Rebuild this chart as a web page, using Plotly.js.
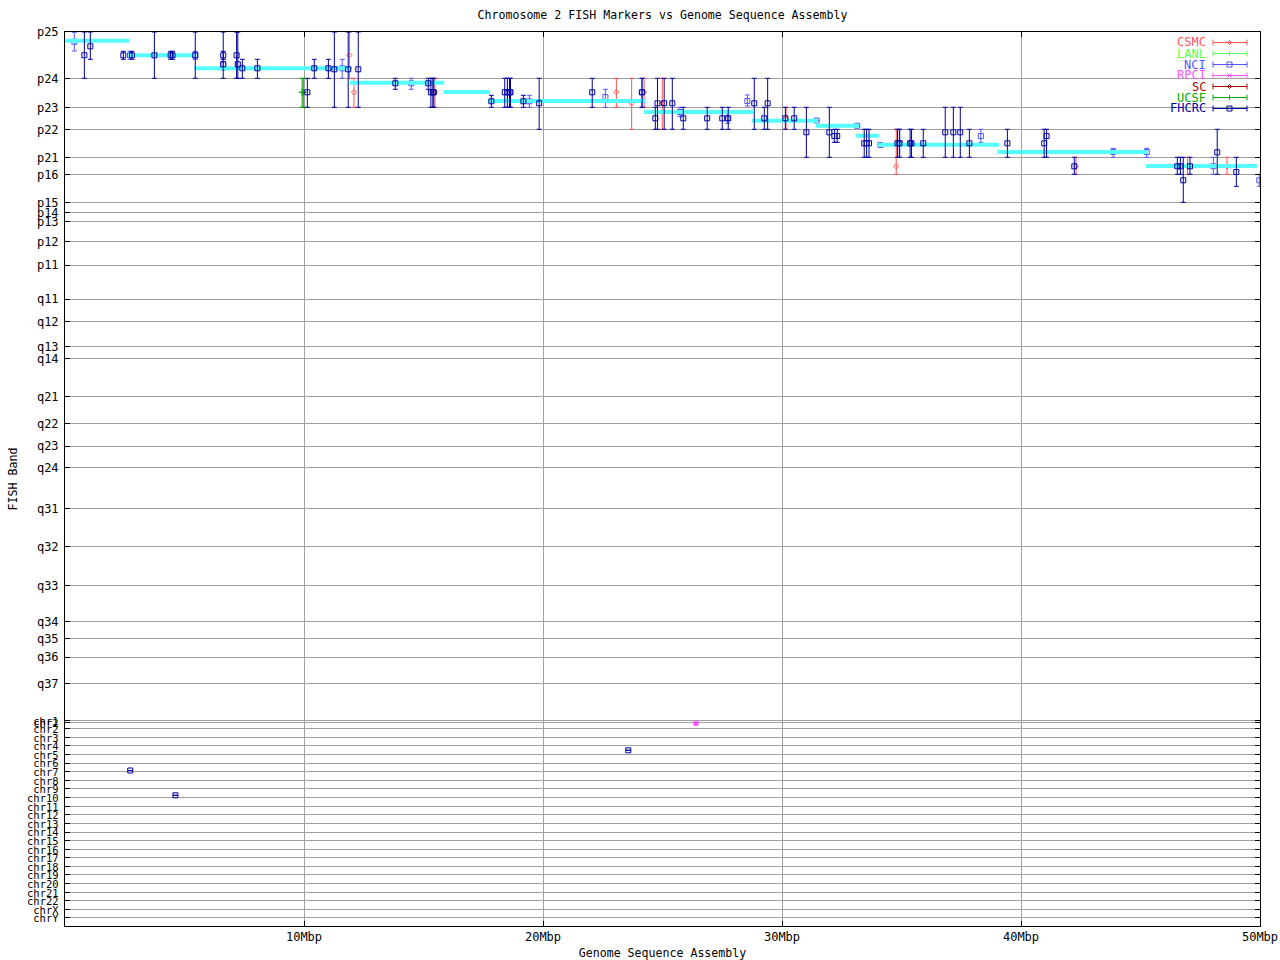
<!DOCTYPE html>
<html>
<head>
<meta charset="utf-8">
<script src="https://cdn.plot.ly/plotly-3.0.1.min.js"></script>
<style>html,body{margin:0;padding:0;background:#fff;}#chart{width:1280px;height:960px;}</style>
</head>
<body>
<div id="chart"></div>
<script>
// ---- FISH band axis (position of each band label along the chromosome scale) ----
const bandLabels = ['p25','p24','p23','p22','p21','p16','p15','p14','p13','p12','p11',
  'q11','q12','q13','q14','q21','q22','q23','q24','q31','q32','q33','q34','q35','q36','q37'];
const bandPos = [0,46.3,75.3,97.3,125.3,142.3,170.3,180.3,189.3,209.3,233,
  267,289.7,314.7,326.3,364.7,391.7,414,435.3,476.7,514.7,553.3,589.3,606.7,625,651.3];
// ---- other-chromosome rows ----
const chrLabels = ['chr1','chr2','chr2','chr3','chr4','chr5','chr6','chr7','chr8','chr9','chr10','chr11','chr12',
  'chr13','chr14','chr15','chr16','chr17','chr18','chr19','chr20','chr21','chr22','chrX','chrY'];
const chrPos = [688.7,690.3,696.3,705.3,713.3,722.3,731,739.3,748.3,756.7,765.3,774.3,782.7,
  791.3,800,808.3,817.3,825.3,834.3,842.7,851.3,860.3,868.7,877.3,885.7];

// ---- x axis ticks (Mbp) ----
const xTickVals = [10,20,30,40,50];
const xTickText = ['10Mbp','20Mbp','30Mbp','40Mbp','50Mbp'];

// ---- sequence assembly band segments (cyan) ----
const segStart = [0.0, 2.65, 5.41, 11.92, 15.83, 17.71, 24.23, 28.74, 31.42, 33.10, 34.02, 39.0, 45.23];
const segEnd   = [2.69, 5.45, 12.0, 15.87, 17.78, 24.3, 28.79, 31.51, 33.22, 34.06, 39.08, 45.31, 49.87];
const segBand  = [8.7, 23.2, 36.2, 50.7, 60, 69, 80, 88.7, 93.7, 103.7, 112.7, 120, 134];

// ---- FHCRC ----
const fhcrcX  = [0.81,1.06,2.44,2.80,3.74,4.42,4.50,5.45,6.62,6.62,7.18,7.23,7.42,8.05,10.14,10.43,11.02,11.27,11.85,12.27,
  13.82,15.20,15.31,15.39,15.43,17.84,18.40,18.51,18.60,18.64,19.18,19.84,22.06,24.15,24.70,24.79,25.07,25.41,25.87,26.87,
  27.50,27.75,28.84,29.26,29.40,30.14,30.51,31.02,31.98,32.19,32.31,33.44,33.54,33.64,34.83,34.91,35.36,35.42,35.91,36.83,
  37.17,37.46,37.84,39.43,40.97,41.07,42.23,46.54,46.67,46.79,47.07,48.21,49.01,2.73,4.62,23.57];
const fhcrcY  = [23.2,14.3,23.3,23.3,23.3,23.3,23.3,23.3,23.3,32.3,23.3,32.3,36.3,36.3,60.3,36.3,36.3,37.3,37.3,37.3,
  51.3,51.3,60.3,60.3,60.3,69.3,60.3,60.3,60.3,60.3,69.3,71.3,60.3,60.3,86.3,71.3,71.3,71.3,86.3,86.3,
  86.3,86.3,71.3,86.3,71.3,86.3,86.3,100.3,100.3,104,104,111.3,111.3,111.3,111.3,111.3,111.3,111.3,111.3,100.3,
  100.3,100.3,111.3,111.3,111.3,104,134.3,134.3,134.3,148.3,134.3,120.3,140,738.5,763.3,718.3];
const fhcrcLo = [0,0,19.3,19.3,0,19.3,19.3,0,19.3,0,0,0,27.3,27.3,46.3,27.3,27.3,0,0,0,
  46.3,46.3,46.3,46.3,46.3,63.3,46.3,46.3,46.3,46.3,63.3,46.3,46.3,46.3,75.3,46.3,46.3,46.3,75.3,75.3,
  75.3,75.3,46.3,75.3,46.3,75.3,75.3,75.3,75.3,97.3,97.3,97.3,97.3,97.3,97.3,97.3,97.3,97.3,97.3,75.3,
  75.3,75.3,97.3,97.3,97.3,97.3,125.3,125.3,125.3,125.3,125.3,97.3,125.3,738.5,763.3,718.3];
const fhcrcHi = [46.3,27.3,27.3,27.3,46.3,27.3,27.3,46.3,27.3,46.3,46.3,46.3,46.3,46.3,75.3,46.3,46.3,75.3,75.3,75.3,
  57.3,57.3,75.3,75.3,75.3,75.3,75.3,75.3,75.3,75.3,75.3,97.3,75.3,75.3,97.3,97.3,97.3,97.3,97.3,97.3,
  97.3,97.3,97.3,97.3,97.3,97.3,97.3,125.3,125.3,110.3,110.3,125.3,125.3,125.3,125.3,125.3,125.3,125.3,125.3,125.3,
  125.3,125.3,125.3,125.3,125.3,125.3,142.3,142.3,142.3,170.3,142.3,142.3,154.3,738.5,763.3,718.3];

// ---- NCI ----
const nciX  = [0.39,2.72,5.45,6.62,11.60,14.49,19.43,22.61,24.13,25.73,27.72,28.55,31.45,33.15,34.12,34.93,38.32,43.86,45.26,48.05,49.97];
const nciY  = [9.7,23.3,23.3,32.3,36.3,51.3,69.3,65,60.3,80,86.3,69,88.5,93.8,113,111.3,104,120,120,134.3,148.3];
const nciLo = [0.3,19.3,19.3,27.3,27.3,46.3,63.3,57.3,46.3,75.3,80.3,63,88.5,93.8,113,97.3,97.3,116.3,116.3,125.3,142.3];
const nciHi = [19,27.3,27.3,38,46.3,57.3,75.3,75.3,75.3,84.7,91.3,74,88.5,93.8,113,125.3,110.3,125.3,125.3,142.3,154.3];

// ---- CSMC ----
const csmcX  = [11.90,12.09,15.48,23.07,23.71,24.23,24.99,30.17,34.78,42.30,46.97,48.62];
const csmcY  = [23.3,60.3,60.3,60.3,71.3,60.3,71.3,86.3,134.3,134.3,134.3,134.3];
const csmcLo = [0,46.3,46.3,46.3,46.3,46.3,46.3,75.3,97.3,125.3,125.3,125.3];
const csmcHi = [46.3,75.3,75.3,75.3,97.3,75.3,97.3,97.3,142.3,142.3,142.3,142.3];

// ---- UCSF ----
const ucsfX  = [9.92,9.97];
const ucsfY  = [60.3,60.3];
const ucsfLo = [46.3,46.3];
const ucsfHi = [75.3,75.3];

// ---- RPCI ----
const rpciX  = [26.4];
const rpciY  = [691.3];
const rpciLo = [691.3];
const rpciHi = [691.3];

// ---- LANL, SC (no visible points) ----
const lanlX = [], lanlY = [], lanlLo = [], lanlHi = [];
const scX = [], scY = [], scLo = [], scHi = [];

// ---- legend ----
const legendNames   = ['CSMC','LANL','NCI','RPCI','SC','UCSF','FHCRC'];
const legendColors  = ['#ff5555','#55ff55','#5555ff','#ff55ff','#aa0000','#00aa00','#0000a0'];
const legendSymbols = ['diamond','cross','square','x','diamond','cross','square'];

const FONT = '"DejaVu Sans Mono", "Liberation Mono", monospace';
const FS = 12;

function series(name, color, symbol, size, X, Y, LO, HI) {
  return {
    type: 'scatter', mode: 'markers', name: name, showlegend: false,
    x: X, y: Y,
    marker: {symbol: symbol, size: size, color: color, line: {color: color, width: 1}},
    error_y: {type: 'data', symmetric: false,
      array: HI.map((h, i) => h - Y[i]), arrayminus: Y.map((y, i) => y - LO[i]),
      color: color, thickness: 1, width: 2.5},
    hoverinfo: 'x+y+name'
  };
}

// cyan assembly segments
const segX = [], segYv = [];
for (let i = 0; i < segStart.length; i++) {
  segX.push(segStart[i], segEnd[i], null);
  segYv.push(segBand[i], segBand[i], null);
}

const traces = [
  series('CSMC', legendColors[0], 'diamond-open', 4, csmcX, csmcY, csmcLo, csmcHi),
  series('LANL', legendColors[1], 'cross-thin-open', 5, lanlX, lanlY, lanlLo, lanlHi),
  series('NCI', legendColors[2], 'square-open', 5, nciX, nciY, nciLo, nciHi),
  series('RPCI', legendColors[3], 'square', 4, rpciX, rpciY, rpciLo, rpciHi),
  series('SC', legendColors[4], 'diamond-open', 4, scX, scY, scLo, scHi),
  series('UCSF', legendColors[5], 'cross-thin-open', 5, ucsfX, ucsfY, ucsfLo, ucsfHi),
  {type: 'scatter', mode: 'lines', x: segX, y: segYv, showlegend: false, name: 'Assembly',
   line: {color: '#55ffff', width: 4}, connectgaps: false, hoverinfo: 'skip'},
  series('FHCRC', legendColors[6], 'square-open', 5, fhcrcX, fhcrcY, fhcrcLo, fhcrcHi)
];

// y ticks: band labels at full size, chromosome rows slightly smaller
const yTickVals = bandPos.concat(chrPos);
const yTickText = bandLabels.concat(chrLabels.map(t => '<span style="font-size:10.5px">' + t + '</span>'));

// plot area in page pixels
const L = 65, R = 1260, T = 32, B = 926;
const px = x => (x - L) / (R - L);
const py = y => (B - y) / (B - T);

const shapes = [];
const annotations = [];
// white legend box
shapes.push({type: 'rect', xref: 'paper', yref: 'paper', x0: px(1165), x1: px(1259), y0: py(115), y1: py(33),
  fillcolor: '#ffffff', line: {width: 0}, layer: 'between'});
for (let i = 0; i < legendNames.length; i++) {
  const yy = 42.5 + i * 11;
  const c = legendColors[i];
  annotations.push({xref: 'paper', yref: 'paper', x: px(1208), y: py(yy), xanchor: 'right', yanchor: 'middle',
    text: legendNames[i], showarrow: false, font: {family: FONT, size: FS, color: c}});
  const ln = {color: c, width: 1};
  shapes.push({type: 'line', xref: 'paper', yref: 'paper', x0: px(1213), x1: px(1247), y0: py(yy), y1: py(yy), line: ln});
  shapes.push({type: 'line', xref: 'paper', yref: 'paper', x0: px(1213), x1: px(1213), y0: py(yy - 3), y1: py(yy + 3), line: ln});
  shapes.push({type: 'line', xref: 'paper', yref: 'paper', x0: px(1247), x1: px(1247), y0: py(yy - 3), y1: py(yy + 3), line: ln});
  const cx = 1229.5;
  const s = legendSymbols[i];
  if (s === 'square') {
    shapes.push({type: 'rect', xref: 'paper', yref: 'paper', x0: px(cx - 2.5), x1: px(cx + 2.5), y0: py(yy + 2.5), y1: py(yy - 2.5), line: ln, fillcolor: 'rgba(0,0,0,0)'});
  } else if (s === 'diamond') {
    shapes.push({type: 'path', xref: 'paper', yref: 'paper',
      path: 'M' + px(cx) + ',' + py(yy - 2) + ' L' + px(cx + 2) + ',' + py(yy) + ' L' + px(cx) + ',' + py(yy + 2) + ' L' + px(cx - 2) + ',' + py(yy) + ' Z',
      line: ln, fillcolor: 'rgba(0,0,0,0)'});
  } else if (s === 'cross') {
    shapes.push({type: 'line', xref: 'paper', yref: 'paper', x0: px(cx), x1: px(cx), y0: py(yy - 2.5), y1: py(yy + 2.5), line: ln});
  } else if (s === 'x') {
    shapes.push({type: 'line', xref: 'paper', yref: 'paper', x0: px(cx - 2), x1: px(cx + 2), y0: py(yy - 2), y1: py(yy + 2), line: ln});
    shapes.push({type: 'line', xref: 'paper', yref: 'paper', x0: px(cx - 2), x1: px(cx + 2), y0: py(yy + 2), y1: py(yy - 2), line: ln});
  }
}

const layout = {
  width: 1280, height: 960,
  margin: {l: L, r: 1280 - R, t: T, b: 960 - B, autoexpand: false},
  paper_bgcolor: '#ffffff', plot_bgcolor: '#ffffff',
  font: {family: FONT, size: FS, color: '#000000'},
  showlegend: false,
  title: {text: 'Chromosome 2 FISH Markers vs Genome Sequence Assembly', x: 0.5, xref: 'paper',
    y: 1 - 15 / 960, yref: 'container', yanchor: 'middle', font: {family: FONT, size: 11.6, color: '#000'}},
  xaxis: {
    range: [0, 50], tickvals: xTickVals, ticktext: xTickText,
    ticks: 'inside', ticklen: 5, tickcolor: '#000', mirror: 'ticks',
    showline: true, linecolor: '#000', linewidth: 1,
    showgrid: true, gridcolor: '#a0a0a0', gridwidth: 1, zeroline: false,
    automargin: false, tickfont: {family: FONT, size: FS},
    title: {text: 'Genome Sequence Assembly', font: {family: FONT, size: 11.6}, standoff: 6}
  },
  yaxis: {
    range: [894, 0], tickvals: yTickVals, ticktext: yTickText,
    ticks: 'inside', ticklen: 5, tickcolor: '#000', mirror: 'ticks',
    showline: true, linecolor: '#000', linewidth: 1,
    showgrid: true, gridcolor: '#a0a0a0', gridwidth: 1, zeroline: false,
    automargin: false, ticklabelstandoff: 3, tickfont: {family: FONT, size: FS},
    title: {text: 'FISH Band', font: {family: FONT, size: 11.6}, standoff: 6}
  },
  shapes: shapes,
  annotations: annotations
};

Plotly.newPlot('chart', traces, layout, {displayModeBar: false, staticPlot: true});
</script>
</body>
</html>
